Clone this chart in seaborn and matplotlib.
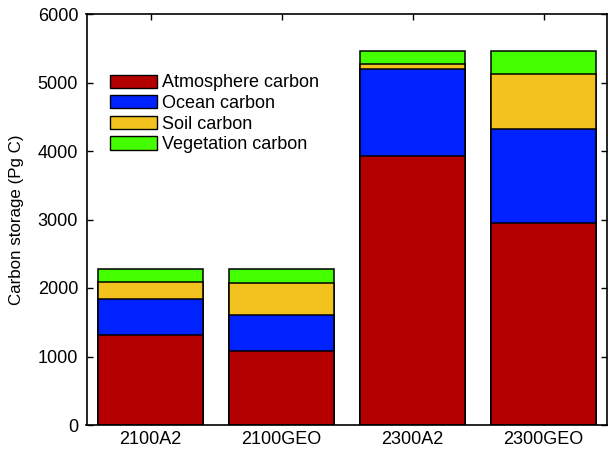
import numpy as np
import pandas as pd
import matplotlib
matplotlib.use("Agg")
import matplotlib.pyplot as plt
import seaborn as sns
from matplotlib.patches import Patch

scenarios = ["2100A2", "2100GEO", "2300A2", "2300GEO"]
atmosphere = [1310, 1080, 3920, 2950]
ocean = [535, 520, 1270, 1370]
soil = [245, 470, 75, 810]
vegetation = [185, 205, 190, 330]

series_names = ["Atmosphere carbon", "Ocean carbon", "Soil carbon", "Vegetation carbon"]
series_colors = ["#B40000", "#0022FF", "#F2C21F", "#44FF00"]
ytick_vals = [0, 1000, 2000, 3000, 4000, 5000, 6000]

sns.set_theme(style="white")
plt.rcParams["font.family"] = ["Liberation Sans", "DejaVu Sans"]
plt.rcParams["text.color"] = "black"
plt.rcParams["axes.labelcolor"] = "black"

fig = plt.figure(figsize=(6.08, 4.5), dpi=100)
ax = fig.add_axes([86.5 / 608, 25 / 450, 520 / 608, 411 / 450])

layers = [atmosphere, ocean, soil, vegetation]
cum = np.cumsum(np.array(layers), axis=0)
df = pd.DataFrame({"scenario": scenarios})
# draw tallest cumulative first so lower layers overlay
for i in range(3, -1, -1):
    df["val"] = cum[i]
    sns.barplot(data=df, x="scenario", y="val", color=series_colors[i],
                saturation=1, edgecolor="black", linewidth=1.1, width=0.8, ax=ax)

ax.set_xlim(-0.49, 3.48)
ax.set_ylim(0, 6000)
ax.set_yticks(ytick_vals)
ax.set_xlabel("")
ax.set_ylabel("Carbon storage (Pg C)", fontsize=12.2, labelpad=10, color="black")
for s in ax.spines.values():
    s.set_visible(True)
    s.set_color("black")
    s.set_linewidth(1.2)
ax.tick_params(direction="in", length=4, width=1, color="black",
               labelsize=13, top=True, right=True, bottom=True, left=True,
               labelcolor="black")
ax.tick_params(axis="y", pad=6)
ax.tick_params(axis="x", pad=4)

handles = [Patch(facecolor=c, edgecolor="black", linewidth=1.0) for c in series_colors]
leg = ax.legend(handles, series_names, loc="upper left", bbox_to_anchor=(0.045, 0.853),
                frameon=False, fontsize=13, handlelength=2.6, handleheight=0.75,
                labelspacing=0.2, handletextpad=0.3, borderaxespad=0, borderpad=0)
for t in leg.get_texts():
    t.set_color("black")

fig.savefig("out.png", dpi=100)
